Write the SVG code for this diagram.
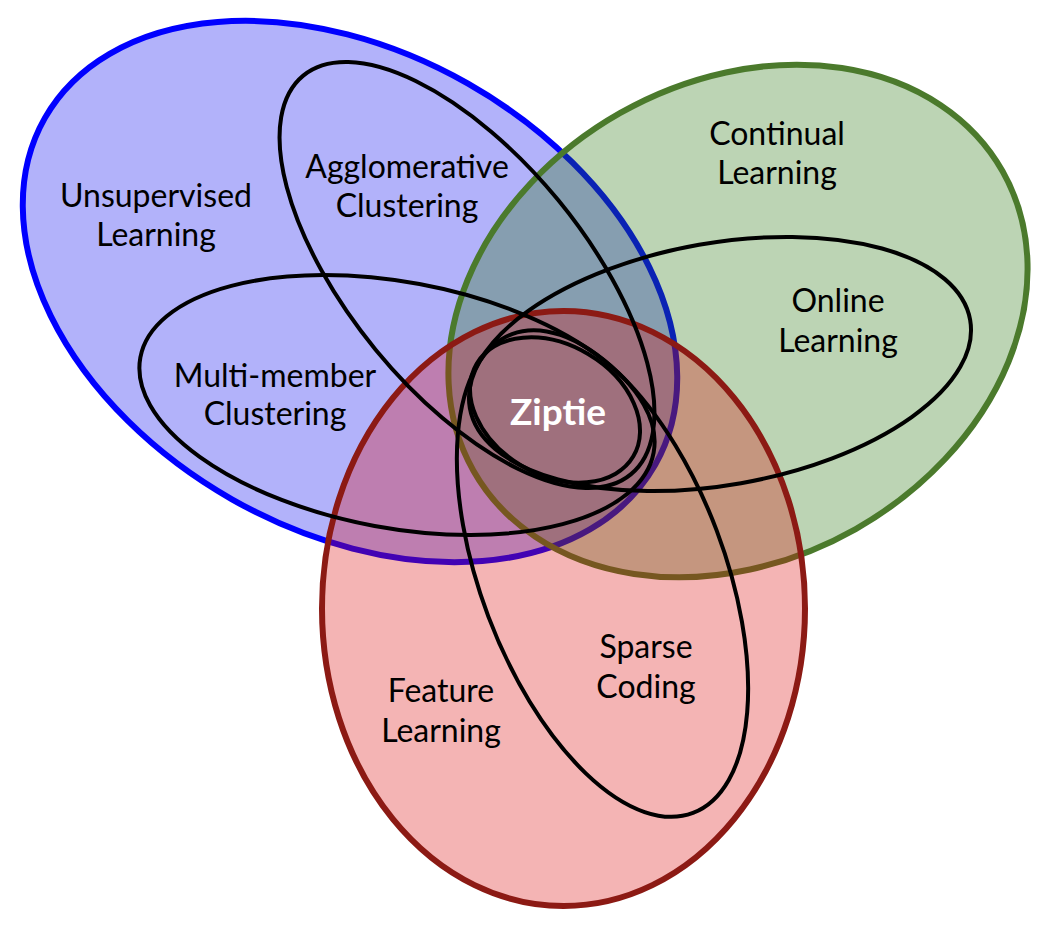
<svg xmlns="http://www.w3.org/2000/svg" width="1046" height="928" viewBox="0 0 1046 928">
<style>
.lbl{font-family:Lato,"Liberation Sans",sans-serif;font-size:32px;fill:#000;text-anchor:middle}
.sub{fill:none;stroke:#000;stroke-width:4}
.set{fill-opacity:0.3;stroke-width:6}
</style>
<rect width="1046" height="928" fill="#ffffff"/>
<g id="unsupervised-learning">
<ellipse class="set" cx="350" cy="291.5" rx="351" ry="239" transform="rotate(29.6 350 291.5)" fill="#0000f0" stroke="#0000ff"/>
<text class="lbl" x="156" y="207">Unsupervised</text>
<text class="lbl" x="156" y="246">Learning</text>
</g>
<g id="continual-learning">
<ellipse class="set" cx="738" cy="321" rx="304" ry="239" transform="rotate(-29.5 738 321)" fill="#207005" stroke="#4b7a2c"/>
<text class="lbl" x="777" y="145">Continual</text>
<text class="lbl" x="777" y="184">Learning</text>
</g>
<g id="feature-learning">
<ellipse class="set" cx="563.5" cy="608.5" rx="241.5" ry="297.5" fill="#da0505" stroke="#8c1a14"/>
<text class="lbl" x="441" y="702">Feature</text>
<text class="lbl" x="441" y="742">Learning</text>
</g>
<g id="agglomerative-clustering">
<ellipse class="sub" cx="467" cy="275" rx="258" ry="118" transform="rotate(50.6 467 275)"/>
<text class="lbl" x="407" y="178">Agglomerative</text>
<text class="lbl" x="407" y="217">Clustering</text>
</g>
<g id="multi-member-clustering">
<ellipse class="sub" cx="397" cy="405" rx="261" ry="123" transform="rotate(10.5 397 405)"/>
<text class="lbl" x="275" y="387">Multi-member</text>
<text class="lbl" x="275" y="425">Clustering</text>
</g>
<g id="online-learning">
<ellipse class="sub" cx="720" cy="364" rx="254" ry="121" transform="rotate(-10 720 364)"/>
<text class="lbl" x="838" y="312">Online</text>
<text class="lbl" x="838" y="352">Learning</text>
</g>
<g id="sparse-coding">
<ellipse class="sub" cx="602.5" cy="573.5" rx="256" ry="122" transform="rotate(69.3 602.5 573.5)"/>
<text class="lbl" x="646" y="658">Sparse</text>
<text class="lbl" x="646" y="698">Coding</text>
</g>
<g id="ziptie">
<ellipse class="sub" cx="555" cy="410" rx="91" ry="65" transform="rotate(30.6 555 410)"/>
<text x="558" y="425" font-family="Lato,'Liberation Sans',sans-serif" font-size="37" font-weight="bold" fill="#ffffff" text-anchor="middle">Ziptie</text>
</g>
</svg>
